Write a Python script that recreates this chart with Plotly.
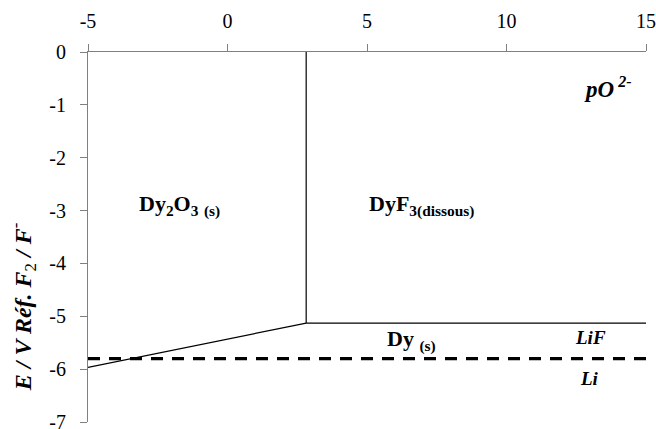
import plotly.graph_objects as go

# Boundary lines of the E - pO2- diagram (Dy in LiF)
vert_x = [2.82, 2.82]
vert_y = [0.0, -5.13]
horiz_x = [2.82, 15.0]
horiz_y = [-5.13, -5.13]
slope_x = [-5.0, 2.82]
slope_y = [-5.965, -5.13]
lif_x = [-5.0, 15.0]
lif_y = [-5.80, -5.80]

x_ticks = [-5, 0, 5, 10, 15]
x_labels = ["-5", "0", "5", "10", "15"]
y_ticks = [0, -1, -2, -3, -4, -5, -6, -7]
y_labels = ["0", "-1", "-2", "-3", "-4", "-5", "-6", "-7"]

FONT = "'Liberation Serif', 'Times New Roman', Tinos, 'DejaVu Serif', serif"

fig = go.Figure()
solid = dict(color="black", width=1.2)
for xs, ys in [(vert_x, vert_y), (horiz_x, horiz_y), (slope_x, slope_y)]:
    fig.add_trace(go.Scatter(x=xs, y=ys, mode="lines", line=solid,
                             showlegend=False, hoverinfo="skip", cliponaxis=False))
fig.add_trace(go.Scatter(x=lif_x, y=lif_y, mode="lines",
                         line=dict(color="black", width=3.2, dash="12px,9px"),
                         showlegend=False, hoverinfo="skip", cliponaxis=False))

ann = [
    dict(x=-1.72, y=-2.91, text="<b>Dy<sub>2</sub>O<sub>3</sub> <sub>(s)</sub></b>", size=22),
    dict(x=6.97, y=-2.91, text="<b>DyF<sub>3(dissous)</sub></b>", size=22),
    dict(x=13.65, y=-0.68, text="<b><i>pO<sup> 2-</sup></i></b>", size=23),
    dict(x=6.6, y=-5.45, text="<b>Dy <sub>(s)</sub></b>", size=22),
    dict(x=13.0, y=-5.41, text="<b><i>LiF</i></b>", size=19),
    dict(x=12.97, y=-6.17, text="<b><i>Li</i></b>", size=19),
]
annotations = []
for a in ann:
    annotations.append(dict(x=a["x"], y=a["y"], xref="x", yref="y", text=a["text"],
                            showarrow=False, xanchor="center", yanchor="middle",
                            font=dict(family=FONT, size=a["size"], color="black")))
annotations.append(dict(x=0, y=0.31, xref="paper", yref="paper", xshift=-65, xanchor="center",
                        yanchor="middle", textangle=-90, showarrow=False,
                        text="<b><i>E / V Réf. F</i></b><sub>2</sub><b><i> / F</i></b><sup>-</sup>",
                        font=dict(family=FONT, size=24, color="black")))

axis_common = dict(showgrid=False, zeroline=False, showline=True, linecolor="#808080",
                   linewidth=1.2, ticks="outside", ticklen=7, tickcolor="#808080", tickwidth=1.2,
                   ticklabeloverflow="allow", automargin=False,
                   tickfont=dict(family=FONT, size=20, color="black"))
fig.update_layout(
    width=656, height=429,
    margin=dict(l=88, r=10, t=52, b=7, autoexpand=False),
    plot_bgcolor="white", paper_bgcolor="white",
    xaxis=dict(range=[-5, 15], side="top", tickvals=x_ticks, ticktext=x_labels,
               ticklabelstandoff=8, **axis_common),
    yaxis=dict(range=[-7, 0], tickvals=y_ticks, ticktext=y_labels,
               ticklabelstandoff=10, **axis_common),
    annotations=annotations,
)
fig.write_html("out.html", config={"displayModeBar": False},
               post_script="document.body.style.margin='0';document.body.style.overflow='hidden';")
